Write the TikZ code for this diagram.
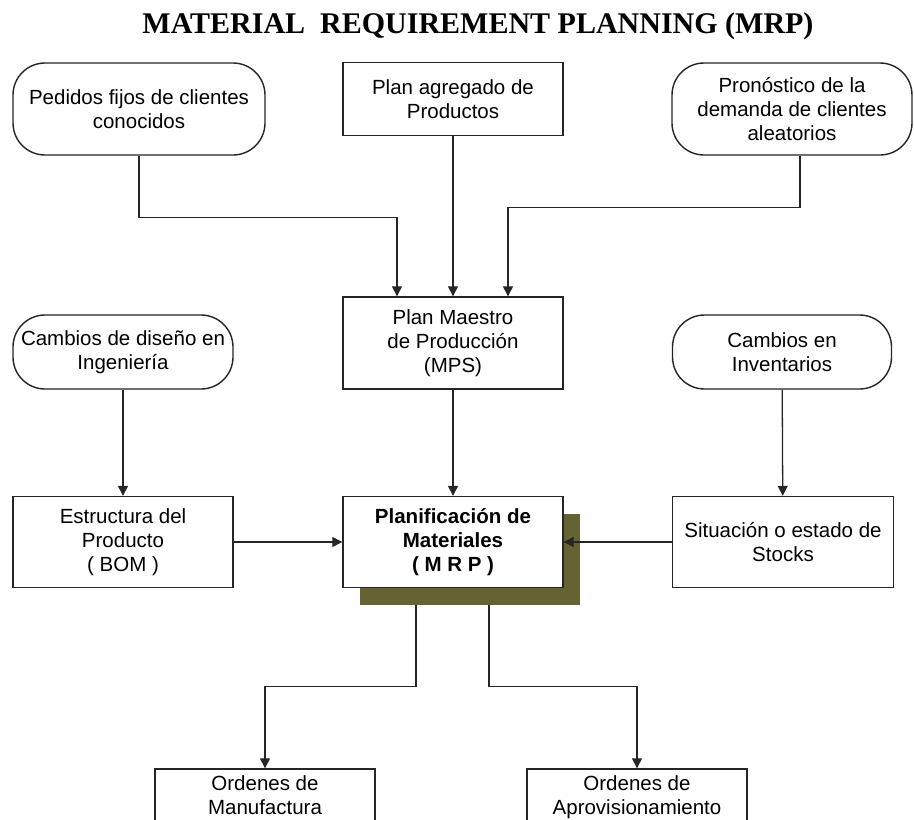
\documentclass[tikz,border=0pt]{standalone}
\usepackage{fontspec}
\setmainfont{Liberation Sans}
\newfontfamily\titlefont{Liberation Serif}
\usepackage{tikz}
\usetikzlibrary{arrows.meta,positioning,calc,shadows}
\usepackage{xcolor}
\definecolor{mrpshadow}{RGB}{102,99,51}

\begin{document}
\begin{tikzpicture}[x=1pt,y=-1pt,>={Triangle[width=10pt,length=10pt]},
  box/.style={draw=black!85,line width=1.4pt,fill=white,align=center,inner sep=2pt,
    font=\fontsize{20.5}{24}\selectfont},
  rbox/.style={box,rounded corners=32pt},
  arr/.style={->,line width=1.3pt,draw=black!85}]
\useasboundingbox (0,0) rectangle (914,820);
\clip (0,0) rectangle (914,820);
\node[font=\titlefont\bfseries\fontsize{30}{34}\selectfont,anchor=base] (title) at (478,33) {MATERIAL\ \ REQUIREMENT PLANNING (MRP)};
\node[rbox, minimum width=252pt, minimum height=92pt] (ped) at (139,109) {Pedidos fijos de clientes\\conocidos};
\node[box, minimum width=220pt, minimum height=73pt] (agr) at (453,99) {Plan agregado de\\Productos};
\node[rbox, minimum width=240pt, minimum height=92pt] (pron) at (792,109) {Pronóstico de la\\demanda de clientes\\aleatorios};
\node[rbox, minimum width=220pt, minimum height=74pt] (cam) at (123,352) {Cambios de diseño en\\Ingeniería};
\node[box, minimum width=220pt, minimum height=92pt] (mps) at (453,343) {Plan Maestro\\de Producción\\(MPS)};
\node[rbox, minimum width=219pt, minimum height=74pt] (inv) at (782,352) {Cambios en\\Inventarios};
\node[box, minimum width=220pt, minimum height=91pt] (bom) at (123,542) {Estructura del\\Producto\\( BOM )};
\node[box, minimum width=220pt, minimum height=91pt, font=\fontsize{20.5}{24}\selectfont\bfseries,
  general shadow={fill=mrpshadow,shadow xshift=17pt,shadow yshift=-17pt}] (mrp) at (453,542) {Planificación de\\Materiales\\( M R P )};
\node[box, minimum width=221pt, minimum height=91pt] (stk) at (783,542) {Situación o estado de\\Stocks};
\node[box, minimum width=220pt, minimum height=60pt] (man) at (265,799) {Ordenes de\\Manufactura\strut};
\node[box, minimum width=220pt, minimum height=60pt] (apr) at (637,799) {Ordenes de\\Aprovisionamiento\strut};
\draw[arr] (ped.south) |- ([xshift=-56pt,yshift=79pt]mps.north) -- ([xshift=-56pt]mps.north);
\draw[arr] (agr) -- (mps);
\draw[arr] ([xshift=8pt]pron.south) |- ([xshift=55pt,yshift=89pt]mps.north) -- ([xshift=55pt]mps.north);
\draw[arr] (cam) -- (bom);
\draw[arr] (mps) -- (mrp);
\draw[arr] (inv) -- (stk);
\draw[arr] (bom) -- (mrp);
\draw[arr] (stk) -- (mrp);
\draw[arr] ([xshift=-37pt,yshift=-17pt]mrp.south) |- ([yshift=82pt]man.north) -- (man.north);
\draw[arr] ([xshift=36pt,yshift=-17pt]mrp.south) |- ([yshift=82pt]apr.north) -- (apr.north);
\end{tikzpicture}
\end{document}
